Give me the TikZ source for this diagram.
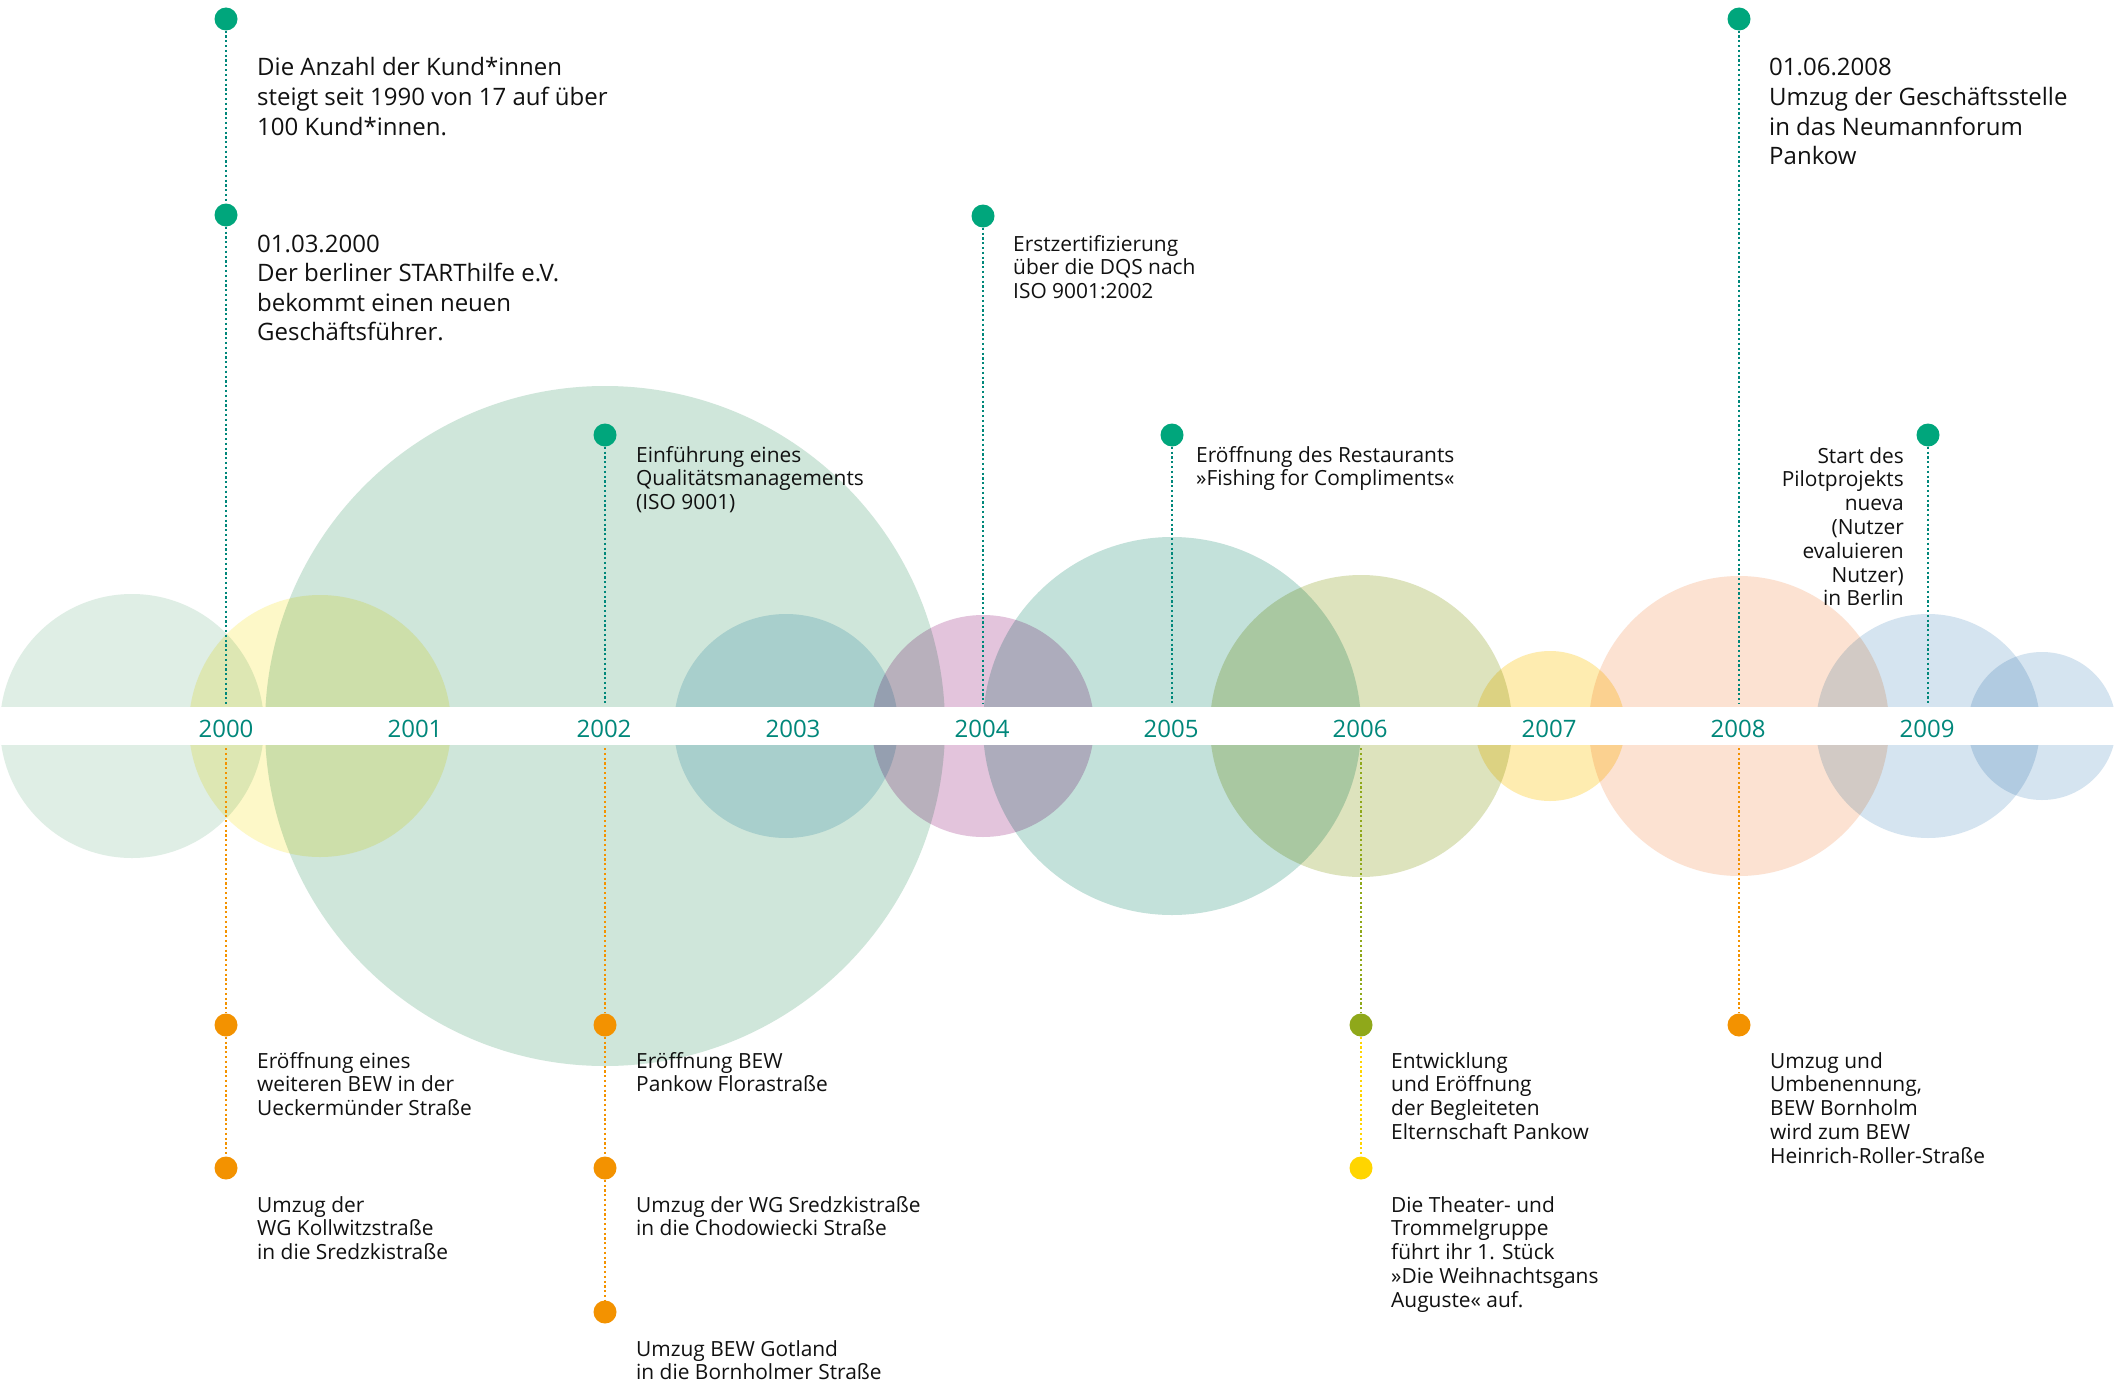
\documentclass[tikz,border=0pt]{standalone}
\usepackage{fontspec}
\setmainfont{Open Sans}
\definecolor{dotgreen}{HTML}{00A67C}
\definecolor{lineteal}{HTML}{00877A}
\definecolor{dotorange}{HTML}{F39200}
\definecolor{dotolive}{HTML}{8FA81A}
\definecolor{dotyellow}{HTML}{FFD500}
\definecolor{txtcol}{HTML}{111111}
\definecolor{cA}{HTML}{DFEEE5}
\definecolor{cB}{HTML}{FDF8C8}
\definecolor{cC}{HTML}{CFE6DA}
\definecolor{cD}{HTML}{CFE6EF}
\definecolor{cE}{HTML}{E3C4DC}
\definecolor{cF}{HTML}{C3E1DA}
\definecolor{cG}{HTML}{DDE3BD}
\definecolor{cH}{HTML}{FEECB0}
\definecolor{cI}{HTML}{FCE2D2}
\definecolor{cJ}{HTML}{D5E4F0}
\newcommand{\bigfont}{\fontsize{24}{29.5}\selectfont}
\newcommand{\smfont}{\fontsize{20.9}{23.8}\selectfont}
\newcommand{\lblock}[1]{\begin{tabular}[t]{@{}l@{}}#1\end{tabular}}
\newcommand{\rblock}[1]{\begin{tabular}[t]{@{}r@{}}#1\end{tabular}}
\tikzset{
  dotnode/.style={circle, inner sep=0pt, minimum size=23pt},
  gdot/.style={dotnode, fill=dotgreen},
  odot/.style={dotnode, fill=dotorange},
  ldot/.style={dotnode, fill=dotolive},
  ydot/.style={dotnode, fill=dotyellow},
  dotline/.style={line width=2.2pt, dash pattern=on 2.2pt off 2.6pt},
  tline/.style={dotline, draw=lineteal},
  oline/.style={dotline, draw=dotorange},
  lline/.style={dotline, draw=dotolive},
  yline/.style={dotline, draw=dotyellow},
  txt/.style={anchor=base west, inner sep=0pt, text=txtcol},
  rtxt/.style={anchor=base east, inner sep=0pt, text=txtcol},
  yearlbl/.style={anchor=base, inner sep=0pt, text=lineteal, font=\fontsize{24}{28}\selectfont},
  bubble/.style={draw=none}
}
\begin{document}
\begin{tikzpicture}[x=1pt, y=-1pt]
\useasboundingbox (0,0) rectangle (2117,1389);
\fill[white] (0,0) rectangle (2117,1389);
% bubbles
\begin{scope}[blend group=multiply]
  \fill[cA] (132,726) circle[radius=132pt];
  \fill[cB] (320,726) circle[radius=131pt];
  \fill[cC] (605,726) circle[radius=340pt];
  \fill[cD] (786,726) circle[radius=112pt];
  \fill[cE] (983,726) circle[radius=111pt];
  \fill[cF] (1172,726) circle[radius=189pt];
  \fill[cG] (1361,726) circle[radius=151pt];
  \fill[cH] (1550,726) circle[radius=75pt];
  \fill[cI] (1739,726) circle[radius=150pt];
  \fill[cJ] (1928,726) circle[radius=112pt];
  \fill[cJ] (2042,726) circle[radius=74pt];
\end{scope}
% white band
\fill[white] (0,707) rectangle (2117,745);
% band coordinates
\foreach \yr/\xx in {2000/226, 2002/605, 2004/983, 2005/1172, 2006/1361, 2008/1739, 2009/1928}{
  \coordinate (t\yr) at (\xx,704);
  \coordinate (b\yr) at (\xx,748);
}
% year labels
\foreach \i/\yr in {0/2000,1/2001,2/2002,3/2003,4/2004,5/2005,6/2006,7/2007,8/2008,9/2009}{
  \node[yearlbl] (y\yr) at ({226+189*\i},737) {\yr};
}
% dots
\node[gdot] (dA) at (226,19) {};
\node[gdot] (dB) at (226,215) {};
\node[gdot] (dC) at (605,435) {};
\node[gdot] (dD) at (983,216) {};
\node[gdot] (dE) at (1172,435) {};
\node[gdot] (dF) at (1739,19) {};
\node[gdot] (dG) at (1928,435) {};
\node[odot] (o1) at (226,1025) {};
\node[odot] (o2) at (226,1168) {};
\node[odot] (o3) at (605,1025) {};
\node[odot] (o4) at (605,1168) {};
\node[odot] (o5) at (605,1312) {};
\node[ldot] (l1) at (1361,1025) {};
\node[ydot] (y1) at (1361,1168) {};
\node[odot] (o6) at (1739,1025) {};
% connectors
\draw[tline] (dA) -- (dB);
\draw[tline] (dB) -- (t2000);
\draw[tline] (dC) -- (t2002);
\draw[tline] (dD) -- (t2004);
\draw[tline] (dE) -- (t2005);
\draw[tline] (dF) -- (t2008);
\draw[tline] (dG) -- (t2009);
\draw[oline] (b2000) -- (o1);
\draw[oline] (o1) -- (o2);
\draw[oline] (b2002) -- (o3);
\draw[oline] (o3) -- (o4);
\draw[oline] (o4) -- (o5);
\draw[lline] (b2006) -- (l1);
\draw[yline] (l1) -- (y1);
\draw[oline] (b2008) -- (o6);
% top texts
\node[txt] (tA) at (257,76) {\bigfont\lblock{Die Anzahl der Kund*innen\\steigt seit 1990 von 17 auf über\\100 Kund*innen.}};
\node[txt] (tB) at (257,252) {\bigfont\lblock{01.03.2000\\Der berliner STARThilfe e.V.\\bekommt einen neuen\\Geschäftsführer.}};
\node[txt] (tF) at (1769,76) {\bigfont\lblock{01.06.2008\\Umzug der Geschäftsstelle\\in das Neumannforum\\Pankow}};
\node[txt] (tC) at (636,462) {\smfont\lblock{Einführung eines\\Qualitätsmanagements\\(ISO 9001)}};
\node[txt] (tD) at (1013,251) {\smfont\lblock{Erstzertifizierung\\über die DQS nach\\ISO 9001:2002}};
\node[txt] (tE) at (1196,462) {\smfont\lblock{Eröffnung des Restaurants\\»Fishing for Compliments«}};
\node[rtxt] (tG) at (1904,463) {\smfont\rblock{Start des\\Pilotprojekts\\nueva\\(Nutzer\\evaluieren\\Nutzer)\\in Berlin}};
% bottom texts
\node[txt] (to1) at (257,1068) {\smfont\lblock{Eröffnung eines\\weiteren BEW in der\\Ueckermünder Straße}};
\node[txt] (to2) at (257,1212) {\smfont\lblock{Umzug der\\WG Kollwitzstraße\\in die Sredzkistraße}};
\node[txt] (to3) at (636,1068) {\smfont\lblock{Eröffnung BEW\\Pankow Florastraße}};
\node[txt] (to4) at (636,1212) {\smfont\lblock{Umzug der WG Sredzkistraße\\in die Chodowiecki Straße}};
\node[txt] (to5) at (636,1356) {\smfont\lblock{Umzug BEW Gotland\\in die Bornholmer Straße}};
\node[txt] (tl1) at (1391,1068) {\smfont\lblock{Entwicklung\\und Eröffnung\\der Begleiteten\\Elternschaft Pankow}};
\node[txt] (ty1) at (1391,1212) {\smfont\lblock{Die Theater- und\\Trommelgruppe\\führt ihr 1. Stück\\»Die Weihnachtsgans\\Auguste« auf.}};
\node[txt] (to6) at (1770,1068) {\smfont\lblock{Umzug und\\Umbenennung,\\BEW Bornholm\\wird zum BEW\\Heinrich-Roller-Straße}};
\end{tikzpicture}
\end{document}
